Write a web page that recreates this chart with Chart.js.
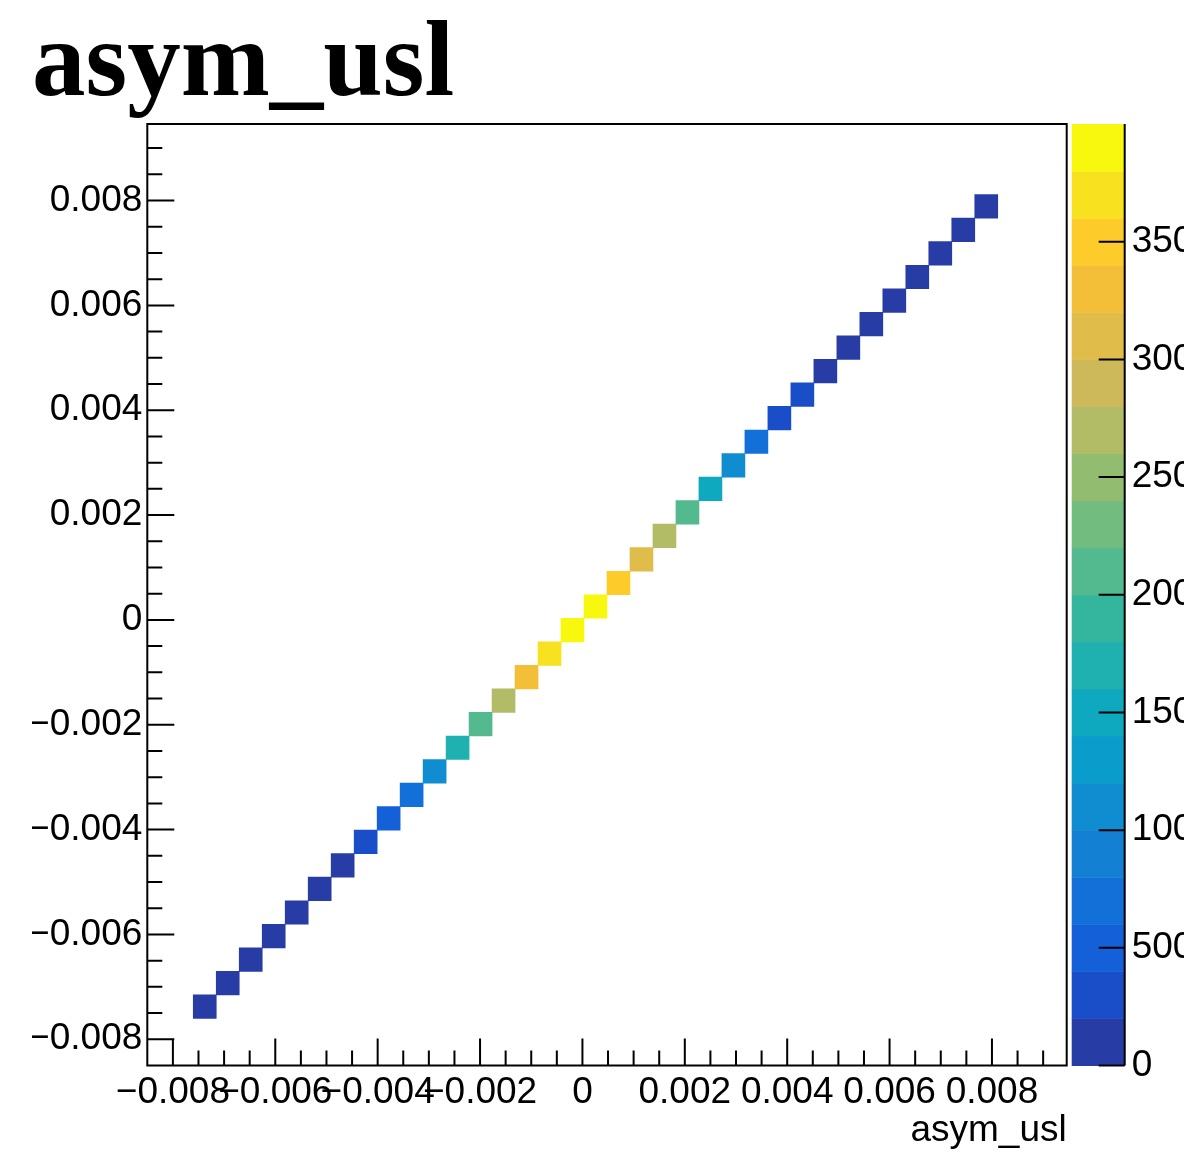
<!DOCTYPE html>
<html>
<head>
<meta charset="utf-8">
<title>asym_usl</title>
<script src="https://cdn.jsdelivr.net/npm/chart.js@4.4.1/dist/chart.umd.min.js"></script>
<style>
  html, body { margin: 0; padding: 0; background: #ffffff; }
  #wrap { position: relative; width: 1184px; height: 1167px; }
</style>
</head>
<body>
<div id="wrap"><canvas id="hist" width="1184" height="1167"></canvas></div>
<script>
// asym_usl vs asym_usl, 2D histogram drawn ROOT "colz" style

// binning, same on both axes
const axisMin = -0.0085;
const axisMax = 0.00946;
const nBins = 40;
const firstFilledBin = 2;

// bin contents along the diagonal (bins 2..36)
const diagCounts = [12, 20, 31, 45, 66, 98, 150, 290, 470, 700, 1080, 1680, 2090, 2700, 3290, 3700, 3950, 3990,
  3480, 3080, 2680, 2080, 1500, 1060, 690, 380, 230, 140, 92, 60, 40, 26, 17, 10, 6];

const xTickValues = [-0.008, -0.006, -0.004, -0.002, 0, 0.002, 0.004, 0.006, 0.008];
const xTickLabels = ['\u22120.008', '\u22120.006', '\u22120.004', '\u22120.002', '0', '0.002', '0.004', '0.006', '0.008'];
const yTickValues = [-0.008, -0.006, -0.004, -0.002, 0, 0.002, 0.004, 0.006, 0.008];
const yTickLabels = ['\u22120.008', '\u22120.006', '\u22120.004', '\u22120.002', '0', '0.002', '0.004', '0.006', '0.008'];
const minorStep = 0.0005;

// colour scale
const zMax = 4000;
const zTickValues = [0, 500, 1000, 1500, 2000, 2500, 3000, 3500];
const zTickLabels = ['0', '500', '1000', '1500', '2000', '2500', '3000', '3500'];
const paletteColors = [
  '#283ca6', '#1a4ec8', '#1360d9', '#1270d8', '#1480d4',
  '#0f8dd0', '#0a9cca', '#0ea8bf', '#1fb0b0', '#33b59e',
  '#52ba8e', '#72bc80', '#92bd70', '#b2bc66', '#cdb85a',
  '#e0bc4a', '#f4bf38', '#fdcc2a', '#f8e21f', '#f8f80f'
];

const binWidth = (axisMax - axisMin) / nBins;
const cells = diagCounts.map((c, i) => {
  const lo = axisMin + (firstFilledBin + i) * binWidth;
  return { x: lo + binWidth / 2, y: [lo, lo + binWidth], count: c };
});

function colorFor(count) {
  const k = Math.min(paletteColors.length - 1, Math.floor(count / zMax * paletteColors.length));
  return paletteColors[k];
}

const labelFont = { family: "'Liberation Sans', Arial, sans-serif", size: 37 };

// frame, inward ticks and the palette bar
const rootFrame = {
  id: 'rootFrame',
  afterDatasetsDraw(chart) {
    const { ctx, chartArea: a, scales: { x, y, z } } = chart;
    ctx.save();
    ctx.strokeStyle = '#000';
    ctx.lineWidth = 2;

    ctx.beginPath();
    const kLo = Math.ceil(axisMin / minorStep - 1e-6);
    const kHi = Math.floor(axisMax / minorStep + 1e-6);
    for (let k = kLo; k <= kHi; k++) {
      const len = (k % 4 === 0) ? 27 : 15;
      const px = x.getPixelForValue(k * minorStep);
      if (px > a.left + 1 && px < a.right - 1) {
        ctx.moveTo(px, a.bottom);
        ctx.lineTo(px, a.bottom - len);
      }
      const py = y.getPixelForValue(k * minorStep);
      if (py > a.top + 1 && py < a.bottom - 1) {
        ctx.moveTo(a.left, py);
        ctx.lineTo(a.left + len, py);
      }
    }
    ctx.stroke();
    ctx.strokeRect(a.left, a.top, a.right - a.left, a.bottom - a.top);

    // palette
    const barLeft = a.right + 5;
    const barRight = a.right + 58;
    const n = paletteColors.length;
    for (let k = 0; k < n; k++) {
      const y0 = z.getPixelForValue(k * zMax / n);
      const y1 = z.getPixelForValue((k + 1) * zMax / n);
      ctx.fillStyle = paletteColors[k];
      ctx.fillRect(barLeft, y1, barRight - barLeft, y0 - y1 + 0.5);
    }
    ctx.beginPath();
    ctx.moveTo(barRight, z.getPixelForValue(zMax));
    ctx.lineTo(barRight, z.getPixelForValue(0));
    zTickValues.forEach(v => {
      const py = z.getPixelForValue(v);
      ctx.moveTo(barRight - 26, py);
      ctx.lineTo(barRight, py);
    });
    ctx.stroke();
    ctx.restore();
  }
};

new Chart(document.getElementById('hist').getContext('2d'), {
  type: 'bar',
  data: {
    datasets: [{
      data: cells,
      backgroundColor: cells.map(c => colorFor(c.count)),
      borderWidth: 0,
      categoryPercentage: 1,
      barPercentage: 1
    }]
  },
  options: {
    responsive: false,
    animation: false,
    layout: { padding: { left: 32, top: 0, right: 0, bottom: 0 } },
    plugins: {
      legend: { display: false },
      tooltip: { enabled: false },
      title: {
        display: true,
        text: 'asym_usl',
        align: 'start',
        color: '#000',
        font: { family: "'Liberation Serif', 'Times New Roman', serif", size: 107, weight: 'bold', lineHeight: 1 },
        padding: { top: 14, bottom: 3 }
      }
    },
    scales: {
      x: {
        type: 'linear',
        min: axisMin,
        max: axisMax,
        offset: false,
        grid: { display: false, drawTicks: false },
        border: { display: false },
        afterBuildTicks: s => { s.ticks = xTickValues.map(v => ({ value: v })); },
        afterFit: s => { s.height = 101.5; },
        ticks: {
          autoSkip: false, maxRotation: 0, minRotation: 0, padding: 5,
          color: '#000', font: labelFont,
          callback: (v, i) => xTickLabels[i]
        },
        title: {
          display: true, text: 'asym_usl', align: 'end', color: '#000',
          font: { family: "'Liberation Sans', Arial, sans-serif", size: 37, lineHeight: 1 },
          padding: { top: 0, bottom: 17.5 }
        }
      },
      y: {
        type: 'linear',
        position: 'left',
        min: axisMin,
        max: axisMax,
        grid: { display: false, drawTicks: false },
        border: { display: false },
        afterBuildTicks: s => { s.ticks = yTickValues.map(v => ({ value: v })); },
        afterFit: s => { s.width = 115.3; },
        ticks: {
          autoSkip: false, padding: 5, color: '#000', font: labelFont,
          callback: (v, i) => yTickLabels[i]
        }
      },
      z: {
        type: 'linear',
        position: 'right',
        min: 0,
        max: zMax,
        grid: { display: false, drawTicks: false },
        border: { display: false },
        afterBuildTicks: s => { s.ticks = zTickValues.map(v => ({ value: v })); },
        afterFit: s => { s.width = 117.3; },
        ticks: {
          autoSkip: false, padding: 65, color: '#000', font: labelFont,
          callback: (v, i) => zTickLabels[i]
        }
      }
    }
  },
  plugins: [rootFrame]
});
</script>
</body>
</html>
